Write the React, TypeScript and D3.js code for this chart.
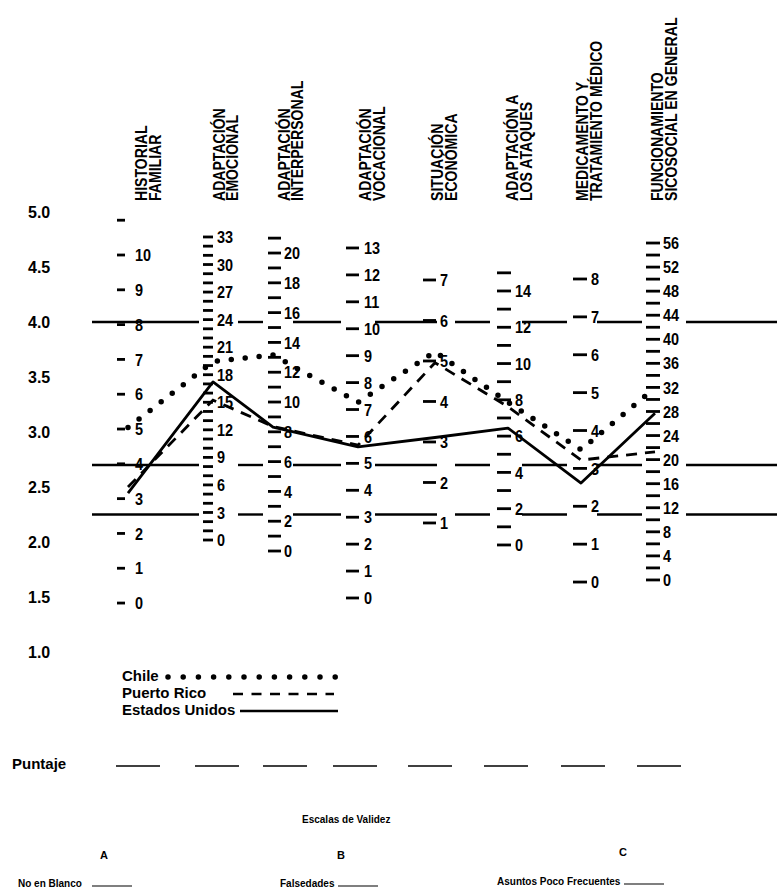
import React from 'react';
import * as d3 from 'd3';

// ---------- data ----------
const headerTop = ['HISTORIAL', 'ADAPTACIÓN', 'ADAPTACIÓN', 'ADAPTACIÓN', 'SITUACIÓN', 'ADAPTACIÓN A', 'MEDICAMENTO Y', 'FUNCIONAMIENTO'];
const headerBottom = ['FAMILIAR', 'EMOCIONAL', 'INTERPERSONAL', 'VOCACIONAL', 'ECONÓMICA', 'LOS ATAQUES', 'TRATAMIENTO MÉDICO', 'SICOSOCIAL EN GENERAL'];

// raw-score scales of each column and their conversion to the 1.0–5.0 profile axis
const rawMin = [0, 0, 0, 0, 1, 0, 0, 0];
const rawMax = [11, 33, 21, 13, 7, 15, 8, 56];
const rawTickStep = [1, 1, 1, 1, 1, 1, 1, 2];
const rawLabelStep = [1, 3, 2, 1, 1, 2, 1, 4];
const rawLabelMax = [10, 33, 20, 13, 7, 14, 8, 56];
const profileAtRawMin = [1.445, 2.018, 1.918, 1.491, 2.173, 1.973, 1.636, 1.655];
const profileAtLabelMax = [4.609, 4.773, 4.627, 4.673, 4.382, 4.282, 4.391, 4.718];

const axisTicks = [5.0, 4.5, 4.0, 3.5, 3.0, 2.5, 2.0, 1.5, 1.0];
const referenceLevels = [4.0, 2.7, 2.25];

const seriesNames = ['Chile', 'Puerto Rico', 'Estados Unidos'];
const chile = [3.04, 3.64, 3.7, 3.27, 3.73, 3.27, 2.84, 3.4];
const puertoRico = [2.5, 3.29, 3.05, 2.88, 3.63, 3.23, 2.745, 2.82];
const estadosUnidos = [2.445, 3.455, 3.045, 2.864, 2.95, 3.036, 2.536, 3.17];

const validityTitle = 'Escalas de Validez';
const validityLetters = ['A', 'B', 'C'];
const validityNames = ['No en Blanco', 'Falsedades', 'Asuntos Poco Frecuentes'];

// ---------- layout ----------
const W = 777;
const H = 891;
const FONT = "'Liberation Sans', Arial, Helvetica, sans-serif";
const vertexX = [128, 213, 273, 358, 435, 508, 581, 655];
const tickX = [117, 203, 268, 346, 423, 497, 573, 646];
const tickLen = [8, 10, 13, 13, 13, 14, 14, 14];
const labelX = [135, 217, 284, 364, 440, 515, 591, 663];
const headerX1 = [147, 225, 290, 371, 443, 518, 588, 663];
const headerX2 = [161, 238, 303, 385, 457, 532, 602, 677];
const refGaps = [[199, 238], [263, 293], [341, 375], [437, 455], [490, 522], [567, 597], [642, 686]];
const blankX = [116, 195, 263, 333, 408, 484, 561, 637];

const y = d3.scaleLinear().domain([1, 5]).range([652, 212]);
const colX = d3.scaleOrdinal<number, number>().domain(d3.range(8)).range(vertexX);

export default function App() {
  const line = d3
    .line<number>()
    .x((_, i) => colX(i))
    .y((d) => y(d));

  const colScales = rawMin.map((mn, i) =>
    d3.scaleLinear().domain([mn, rawLabelMax[i]]).range([profileAtRawMin[i], profileAtLabelMax[i]])
  );

  const refSegments = referenceLevels.map((lv) => {
    const segs: [number, number][] = [];
    let start = 92;
    refGaps.forEach(([a, b]) => {
      segs.push([start, a]);
      start = b;
    });
    segs.push([start, W]);
    return { lv, segs };
  });

  return (
    <svg
      width={W}
      height={H}
      style={{ position: 'absolute', left: 0, top: 0, background: '#fff' }}
      fontFamily={FONT}
    >
      <rect x={0} y={0} width={W} height={H} fill="#fff" />

      {/* column headers */}
      {headerTop.map((t, i) => (
        <g key={'h' + i} fontSize={16} fontWeight="bold" fill="#000">
          <text transform={`translate(${headerX1[i]},201) rotate(-90) scale(0.88,1)`}>{t}</text>
          <text transform={`translate(${headerX2[i]},201) rotate(-90) scale(0.88,1)`}>{headerBottom[i]}</text>
        </g>
      ))}

      {/* left profile axis labels */}
      {axisTicks.map((v) => (
        <text key={'a' + v} x={28} y={y(v)} dy="0.35em" fontSize={16} fontWeight="bold">
          {v.toFixed(1)}
        </text>
      ))}

      {/* reference horizontal lines */}
      {refSegments.map(({ lv, segs }) =>
        segs.map(([a, b], k) => (
          <line key={'r' + lv + '-' + k} x1={a} x2={b} y1={y(lv)} y2={y(lv)} stroke="#000" strokeWidth={2.4} />
        ))
      )}

      {/* raw-score scales */}
      {colScales.map((s, i) => {
        const ticks = d3.range(rawMin[i], rawMax[i] + 0.001, rawTickStep[i]);
        return (
          <g key={'c' + i}>
            {ticks.map((t) => {
              const yy = y(s(t));
              const labelled = (t - rawMin[i]) % rawLabelStep[i] === 0 && t <= rawLabelMax[i];
              return (
                <g key={t}>
                  <line x1={tickX[i]} x2={tickX[i] + tickLen[i]} y1={yy} y2={yy} stroke="#000" strokeWidth={2.8} />
                  {labelled && (
                    <text
                      transform={`translate(${labelX[i]},${yy}) scale(0.85,1)`}
                      dy="0.36em"
                      fontSize={17}
                      fontWeight="bold"
                    >
                      {t}
                    </text>
                  )}
                </g>
              );
            })}
          </g>
        );
      })}

      {/* series */}
      <path d={line(estadosUnidos) || ''} fill="none" stroke="#000" strokeWidth={2.8} strokeLinejoin="round" />
      <path d={line(puertoRico) || ''} fill="none" stroke="#000" strokeWidth={2.8} strokeDasharray="11 8" />
      <path
        d={line(chile) || ''}
        fill="none"
        stroke="#000"
        strokeWidth={5.5}
        strokeLinecap="round"
        strokeDasharray="0 14"
      />

      {/* legend */}
      <g fontSize={15} fontWeight="bold">
        <text x={122} y={676} dy="0.35em">{seriesNames[0]}</text>
        <line x1={168} x2={336} y1={677} y2={677} stroke="#000" strokeWidth={5.5} strokeLinecap="round" strokeDasharray="0 15.2" />
        <text x={122} y={693} dy="0.35em">{seriesNames[1]}</text>
        <line x1={233} x2={334} y1={694} y2={694} stroke="#000" strokeWidth={2.6} strokeDasharray="10 8.5" />
        <text x={122} y={710} dy="0.35em">{seriesNames[2]}</text>
        <line x1={240} x2={338} y1={711} y2={711} stroke="#000" strokeWidth={2.6} />
      </g>

      {/* Puntaje row */}
      <text x={12} y={764} dy="0.35em" fontSize={15} fontWeight="bold">Puntaje</text>
      {blankX.map((bx, i) => (
        <line key={'b' + i} x1={bx} x2={bx + 44} y1={766} y2={766} stroke="#000" strokeWidth={1.6} />
      ))}

      {/* validity scales */}
      <g fontWeight="bold" fontSize={10}>
        <text x={302} y={819} dy="0.35em">{validityTitle}</text>
        <text x={100} y={855} dy="0.35em" fontSize={11}>{validityLetters[0]}</text>
        <text x={337} y={855} dy="0.35em" fontSize={11}>{validityLetters[1]}</text>
        <text x={619} y={852} dy="0.35em" fontSize={11}>{validityLetters[2]}</text>
        <text x={18} y={883} dy="0.35em">{validityNames[0]}</text>
        <line x1={92} x2={132} y1={886} y2={886} stroke="#000" strokeWidth={1.2} />
        <text x={280} y={883} dy="0.35em">{validityNames[1]}</text>
        <line x1={338} x2={378} y1={886} y2={886} stroke="#000" strokeWidth={1.2} />
        <text x={497} y={881} dy="0.35em">{validityNames[2]}</text>
        <line x1={624} x2={664} y1={884} y2={884} stroke="#000" strokeWidth={1.2} />
      </g>
    </svg>
  );
}
